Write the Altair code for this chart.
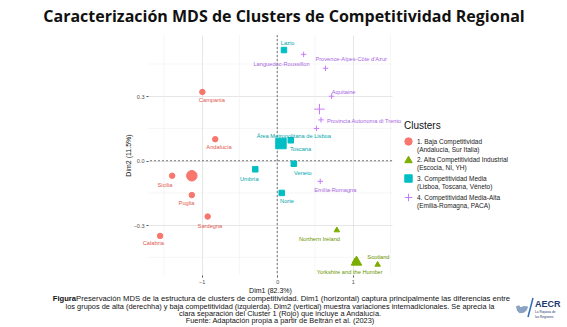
import altair as alt
import pandas as pd

# ---- data ----
regions = ["Campania", "Andalucía", "Sicilia", "Puglia", "Sardegna", "Calabria",
           "Northern Ireland", "Scotland", "Yorkshire and the Humber",
           "Lazio", "Toscana", "Umbría", "Veneto", "Norte", "Área Metropolitana de Lisboa",
           "Languedoc-Roussillon", "Provence-Alpes-Côte d'Azur", "Aquitaine",
           "Provincia Autonoma di Trento", "", "Emilia-Romagna"]
cluster_id = [1, 1, 1, 1, 1, 1,
              2, 2, 2,
              3, 3, 3, 3, 3, 3,
              4, 4, 4, 4, 4, 4]
dim1 = [-0.99, -0.82, -1.39, -1.13, -0.92, -1.55,
        0.79, 1.33, 1.03,
        0.09, 0.18, -0.29, 0.22, 0.06, 0.04,
        0.35, 0.64, 0.72, 0.58, 0.52, 0.57]
dim2 = [0.32, 0.10, -0.07, -0.16, -0.26, -0.35,
        -0.32, -0.48, -0.465,
        0.515, 0.095, -0.04, -0.014, -0.15, 0.074,
        0.495, 0.43, 0.30, 0.19, 0.15, -0.096]
label_x = [-0.865, -0.77, -1.485, -1.20, -0.89, -1.64,
           0.56, 1.34, 0.96,
           0.137, 0.31, -0.37, 0.34, 0.13, 0.22,
           0.058, 0.98, 0.88, 1.15, 0.52, 0.77]
label_y = [0.281, 0.062, -0.114, -0.198, -0.305, -0.381,
           -0.366, -0.448, -0.518,
           0.546, 0.054, -0.084, -0.059, -0.189, 0.115,
           0.451, 0.472, 0.318, 0.186, 0.15, -0.138]

centroid_cluster = [1, 2, 3, 4]
centroid_dim1 = [-1.13, 1.05, 0.05, 0.56]
centroid_dim2 = [-0.07, -0.465, 0.08, 0.24]

cluster_names = ["1. Baja Competitividad|  (Andalucía, Sur Italia)",
                 "2. Alta Competitividad Industrial|  (Escocia, NI, YH)",
                 "3. Competitividad Media|  (Lisboa, Toscana, Véneto)",
                 "4. Competitividad Media-Alta|  (Emilia-Romagna, PACA)"]
point_colors = ["#F8766D", "#7CAE00", "#00BFC4", "#C77CFF"]
label_colors = ["#E0584E", "#6A9500", "#00A6AA", "#A865E0"]
shapes = ["circle", "triangle-up", "square", "M-1,0H1M0,-1V1"]

x_major = [-1, 0, 1]
x_minor = [-1.5, -0.5, 0.5, 1.5]
y_major = [-0.3, 0, 0.3]
y_minor = [-0.45, -0.15, 0.15, 0.45]

title_text = "Caracterización MDS de Clusters de Competitividad Regional"
caption_bold = "Figura"
caption_lines = [
    "Preservación MDS de la estructura de clusters de competitividad. Dim1 (horizontal) captura principalmente las diferencias entre",
    "los grupos de alta (derechha) y baja competitividad (izquierda). Dim2 (vertical) muestra variaciones internadicionales. Se aprecia la",
    "clara separación del Cluster 1 (Rojo) que incluye a Andalucía.",
    "Fuente: Adaptación propia a partir de Beltrán et al. (2023)",
]

# ---- tables ----
pts = pd.DataFrame({
    "region": regions,
    "cluster": [cluster_names[c - 1] for c in cluster_id],
    "dim1": dim1, "dim2": dim2,
    "lx": label_x, "ly": label_y,
    "kind": ["region"] * len(regions),
})
cents = pd.DataFrame({
    "region": [""] * 4,
    "cluster": [cluster_names[c - 1] for c in centroid_cluster],
    "dim1": centroid_dim1, "dim2": centroid_dim2,
    "kind": ["centroid"] * 4,
})
allpts = pd.concat([pts, cents], ignore_index=True)

W, H = 244, 240
xs = alt.Scale(domain=[-1.71, 1.52], nice=False, zero=False)
ys = alt.Scale(domain=[-0.532, 0.585], nice=False, zero=False)

x_axis = alt.Axis(values=x_major, format="d", labelOverlap=False,
                  title="Dim1 (82.3%)", grid=True, gridColor="#E3E3E3", gridWidth=0.9,
                  tickColor="#555555", tickSize=2, domain=False, labelFontSize=5.5, labelColor="#4D4D4D",
                  titleFontSize=7, titleFontWeight="normal", titleColor="#111111", titlePadding=2,
                  labelPadding=2, labelFont="Liberation Sans", titleFont="Liberation Sans")
y_axis = alt.Axis(values=y_major, format=".1f", labelOverlap=False,
                  title="Dim2 (11.5%)", grid=True, gridColor="#E3E3E3", gridWidth=0.9,
                  tickColor="#555555", tickSize=2, domain=False, labelFontSize=5.5, labelColor="#4D4D4D",
                  titleFontSize=7, titleFontWeight="normal", titleColor="#111111", titlePadding=2,
                  labelPadding=2, labelFont="Liberation Sans", titleFont="Liberation Sans")

xminor_rules = alt.Chart(pd.DataFrame({"v": x_minor})).mark_rule(color="#EDEDED", strokeWidth=0.5).encode(
    x=alt.X("v:Q", scale=xs, axis=x_axis))
yminor_rules = alt.Chart(pd.DataFrame({"v": y_minor})).mark_rule(color="#EDEDED", strokeWidth=0.5).encode(
    y=alt.Y("v:Q", scale=ys, axis=y_axis))

vline = alt.Chart(pd.DataFrame({"dim1": [0.0]})).mark_rule(color="#555555", strokeDash=[2, 2], strokeWidth=0.8).encode(
    x=alt.X("dim1:Q", scale=xs, axis=x_axis))
hline = alt.Chart(pd.DataFrame({"dim2": [0.0]})).mark_rule(color="#555555", strokeDash=[2, 2], strokeWidth=0.8).encode(
    y=alt.Y("dim2:Q", scale=ys, axis=y_axis))

legend = alt.Legend(title="Clusters", orient="none", legendX=256, legendY=86,
                    titleFontSize=10, titleFontWeight="normal", titleFont="Liberation Sans", titleColor="#111111",
                    labelFontSize=6.5, labelFont="Liberation Sans", labelColor="#222222",
                    labelExpr="split(datum.label, '|')", symbolSize=55, symbolStrokeWidth=1,
                    rowPadding=0, titlePadding=6, labelOffset=4, labelLimit=200)

points = alt.Chart(allpts).mark_point(filled=True, opacity=1, strokeWidth=1).encode(
    x=alt.X("dim1:Q", scale=xs, axis=x_axis),
    y=alt.Y("dim2:Q", scale=ys, axis=y_axis),
    color=alt.Color("cluster:N", scale=alt.Scale(domain=cluster_names, range=point_colors), legend=legend),
    stroke=alt.Stroke("cluster:N", scale=alt.Scale(domain=cluster_names, range=point_colors), legend=legend),
    shape=alt.Shape("cluster:N", scale=alt.Scale(domain=cluster_names, range=shapes), legend=legend),
    size=alt.Size("kind:N", scale=alt.Scale(domain=["region", "centroid"], range=[30, 110]), legend=None),
)

labels = alt.Chart(pts).mark_text(fontSize=5.7, font="Liberation Sans").encode(
    x=alt.X("lx:Q", scale=xs, axis=x_axis),
    y=alt.Y("ly:Q", scale=ys, axis=y_axis),
    text="region:N",
    fill=alt.Fill("cluster:N", scale=alt.Scale(domain=cluster_names, range=label_colors), legend=None),
)

one = pd.DataFrame({"a": [0]})
title = alt.Chart(one).mark_text(fontSize=16, fontWeight="bold", font="Open Sans", color="#111111",
                                 align="center", baseline="middle").encode(
    x=alt.value(136), y=alt.value(-18), text=alt.value(title_text))

cap_fs = 7.4
cap_bold = alt.Chart(one).mark_text(fontSize=cap_fs + 0.2, fontWeight="bold", font="Liberation Sans", color="#111111",
                                    align="right", baseline="middle").encode(
    x=alt.value(-72), y=alt.value(264), text=alt.value(caption_bold))
cap_first = alt.Chart(one).mark_text(fontSize=7.7, font="Liberation Sans", color="#111111",
                                     align="left", baseline="middle").encode(
    x=alt.value(-72), y=alt.value(264), text=alt.value(caption_lines[0]))
cap_rest = alt.Chart(one).mark_text(fontSize=cap_fs, font="Liberation Sans", color="#111111",
                                    align="center", baseline="top", lineBreak="\n", lineHeight=7.3).encode(
    x=alt.value(132), y=alt.value(267.5), text=alt.value("\n".join(caption_lines[1:])))

logo_main = alt.Chart(one).mark_text(fontSize=9, fontWeight="bold", font="Liberation Sans", color="#1F3A6B",
                                     align="left", baseline="middle").encode(
    x=alt.value(387), y=alt.value(269), text=alt.value("AECR"))
logo_sub = alt.Chart(one).mark_text(fontSize=3.2, font="Liberation Sans", color="#1F3A6B",
                                    align="left", baseline="middle", lineBreak="|").encode(
    x=alt.value(387), y=alt.value(277), text=alt.value("La Riqueza de|las Regiones"))
logo_slash = alt.Chart(one).mark_rule(color="#2F6DB5", strokeWidth=1.5).encode(
    x=alt.value(385), x2=alt.value(380), y=alt.value(263), y2=alt.value(282))
logo_map = alt.Chart(one).mark_point(filled=True, color="#8BA3C2", opacity=1,
                                     shape="M-1,-0.4L-0.5,-0.6L-0.2,-0.3L0.3,-0.5L1,-0.4L0.8,0.2L0.3,0.6L-0.4,0.7L-0.8,0.3Z",
                                     size=150).encode(x=alt.value(374), y=alt.value(274))

chart = alt.layer(xminor_rules, yminor_rules, vline, hline, points, labels, title, cap_bold, cap_first, cap_rest,
                  logo_map, logo_slash, logo_main, logo_sub).properties(
    width=W, height=H,
    autosize=alt.AutoSizeParams(type="none"),
    padding={"left": 148, "top": 35, "right": 175, "bottom": 52},
    background="white",
).configure_view(stroke=None)

chart.save("out.html", embed_options={"renderer": "svg", "actions": False})
